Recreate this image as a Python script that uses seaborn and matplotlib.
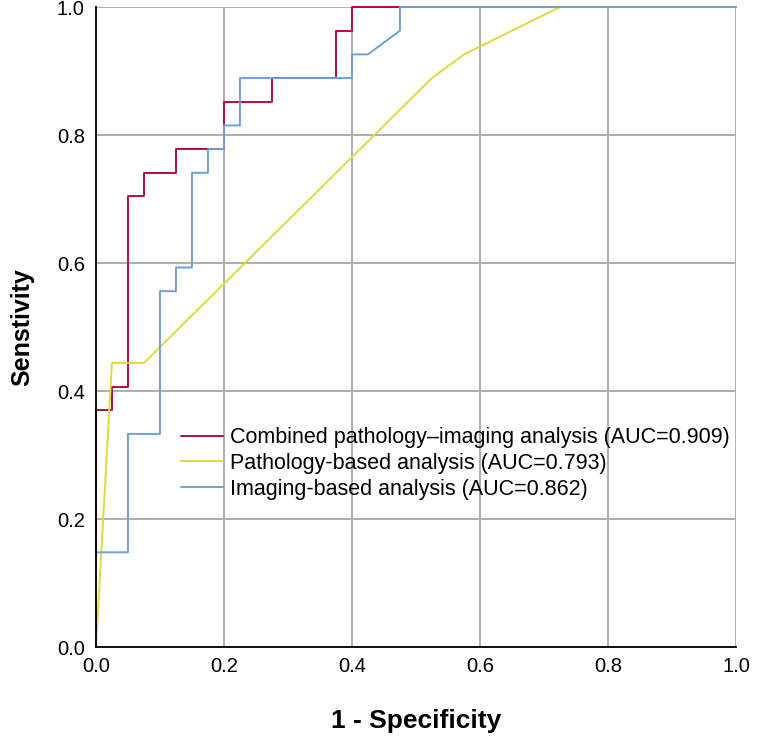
import numpy as np
import pandas as pd
import matplotlib
matplotlib.use('Agg')
import matplotlib.pyplot as plt
import seaborn as sns

# ROC curve vertices (1 - specificity, sensitivity)
combined_fpr = [0, 0, 0.025, 0.025, 0.05, 0.05, 0.075, 0.075, 0.125, 0.125, 0.2, 0.2,
                0.275, 0.275, 0.375, 0.375, 0.4, 0.4, 1.0]
combined_tpr = [0, 0.370, 0.370, 0.407, 0.407, 0.704, 0.704, 0.741, 0.741, 0.778, 0.778, 0.852,
                0.852, 0.889, 0.889, 0.963, 0.963, 1.0, 1.0]

pathology_fpr = [0, 0.025, 0.075, 0.525, 0.575, 0.725, 1.0]
pathology_tpr = [0, 0.444, 0.444, 0.889, 0.926, 1.0, 1.0]

imaging_fpr = [0, 0, 0.05, 0.05, 0.1, 0.1, 0.125, 0.125, 0.15, 0.15, 0.175, 0.175, 0.2, 0.2,
               0.225, 0.225, 0.4, 0.4, 0.425, 0.475, 0.475, 1.0]
imaging_tpr = [0, 0.148, 0.148, 0.333, 0.333, 0.556, 0.556, 0.593, 0.593, 0.741, 0.741, 0.778,
               0.778, 0.815, 0.815, 0.889, 0.889, 0.926, 0.926, 0.963, 1.0, 1.0]

labels = ['Combined pathology\u2013imaging analysis (AUC=0.909)',
          'Pathology-based analysis (AUC=0.793)',
          'Imaging-based analysis (AUC=0.862)']
colors = ['#B0103A', '#E0D840', '#6E9FD6']

frames = []
for lab, fx, ty in zip(labels, [combined_fpr, pathology_fpr, imaging_fpr],
                       [combined_tpr, pathology_tpr, imaging_tpr]):
    frames.append(pd.DataFrame({'fpr': fx, 'tpr': ty, 'model': lab}))
df = pd.concat(frames, ignore_index=True)

sns.set_style('white')
plt.rcParams['font.family'] = ['Liberation Sans', 'DejaVu Sans']
plt.rcParams['text.color'] = 'black'
plt.rcParams['axes.labelcolor'] = 'black'

fig = plt.figure(figsize=(7.58, 7.48), dpi=100)
ax = fig.add_axes([0.1266, 0.135, 0.8443, 0.8556])

# grid
ax.set_xticks(np.arange(0, 1.01, 0.2))
ax.set_yticks(np.arange(0, 1.01, 0.2))
ax.grid(True, color='#A8A8A8', linewidth=1.3)
ax.set_axisbelow(True)

sns.lineplot(data=df, x='fpr', y='tpr', hue='model', palette=colors, sort=False,
             estimator=None, units='model', linewidth=1.4, ax=ax, legend=True)
for ln in ax.get_lines():
    ln.set_clip_on(False)

ax.set_xlim(0, 1)
ax.set_ylim(0, 1)
for s in ['top', 'right']:
    ax.spines[s].set_visible(False)
for s in ['left', 'bottom']:
    ax.spines[s].set_color('black')
    ax.spines[s].set_linewidth(1.3)
ax.tick_params(axis='both', length=0, labelsize=14.5, colors='black')
ax.tick_params(axis='x', pad=7)
ax.tick_params(axis='y', pad=8)
ax.set_xticklabels([f'{v:.1f}' for v in np.arange(0, 1.01, 0.2)])
ax.set_yticklabels([f'{v:.1f}' for v in np.arange(0, 1.01, 0.2)])

ax.set_xlabel('1 - Specificity', fontsize=19, fontweight='bold', labelpad=24)
ax.set_ylabel('Senstivity', fontsize=18, fontweight='bold', labelpad=16)

ax.legend(title=None, frameon=False, loc='upper left', bbox_to_anchor=(0.12, 0.357),
          fontsize=15.5, handlelength=1.95, handletextpad=0.3, labelspacing=0.22,
          borderaxespad=0)

fig.savefig('out.png', dpi=100)
